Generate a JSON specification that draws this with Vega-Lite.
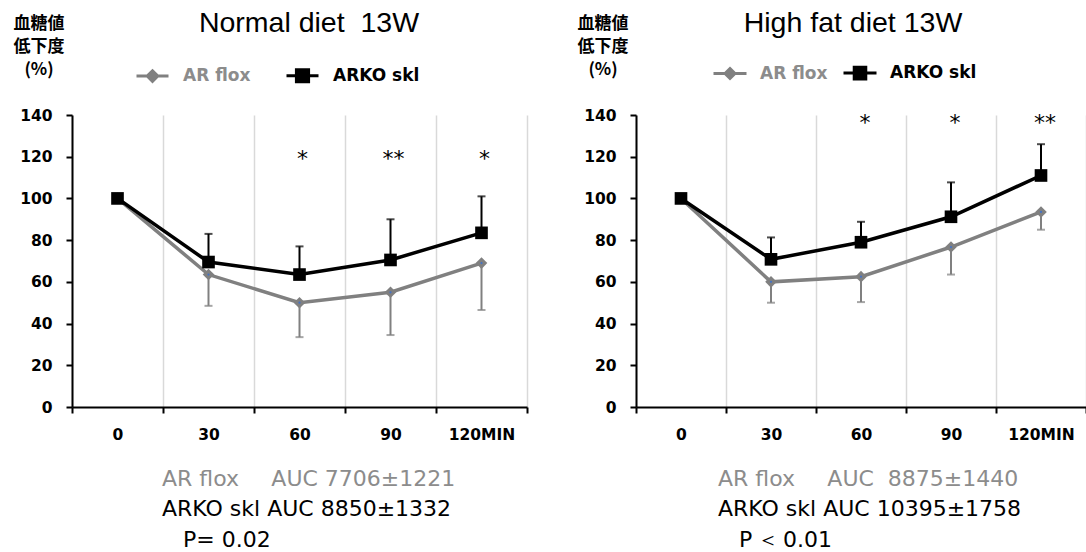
{
  "$schema": "https://vega.github.io/schema/vega-lite/v6.json",
  "background": "white",
  "padding": {"left": 13, "top": 8, "right": 0, "bottom": 0},
  "bounds": "flush",
  "spacing": 109,
  "config": {
    "view": {"stroke": null},
    "font": "DejaVu Sans",
    "axisLeft": {"labelPadding": 14, "tickSize": 6},
    "axisTop": {
      "labels": false, "ticks": false, "domain": false, "grid": false,
      "titleFont": "Liberation Sans", "titleFontSize": 28.5, "titleFontWeight": "normal", "titleColor": "#000000",
      "titleY": -84, "titleAlign": "center", "titleBaseline": "alphabetic"
    },
    "legend": {
      "orient": "none", "direction": "horizontal", "columns": 2,
      "symbolStrokeWidth": 3, "labelFont": "DejaVu Sans", "labelFontSize": 17, "labelFontWeight": "bold"
    }
  },
  "datasets": {
    "normal": [
      {"t": 0, "group": "AR flox", "mean": 100, "end": null},
      {"t": 30, "group": "AR flox", "mean": 63.5, "end": 48.5},
      {"t": 60, "group": "AR flox", "mean": 50, "end": 33.5},
      {"t": 90, "group": "AR flox", "mean": 55, "end": 34.5},
      {"t": 120, "group": "AR flox", "mean": 69, "end": 46.5},
      {"t": 0, "group": "ARKO skl", "mean": 100, "end": null},
      {"t": 30, "group": "ARKO skl", "mean": 69.5, "end": 83},
      {"t": 60, "group": "ARKO skl", "mean": 63.5, "end": 77},
      {"t": 90, "group": "ARKO skl", "mean": 70.5, "end": 90},
      {"t": 120, "group": "ARKO skl", "mean": 83.5, "end": 101}
    ],
    "hfd": [
      {"t": 0, "group": "AR flox", "mean": 100, "end": null},
      {"t": 30, "group": "AR flox", "mean": 60, "end": 50},
      {"t": 60, "group": "AR flox", "mean": 62.5, "end": 50.3},
      {"t": 90, "group": "AR flox", "mean": 76.7, "end": 63.5},
      {"t": 120, "group": "AR flox", "mean": 93.5, "end": 85},
      {"t": 0, "group": "ARKO skl", "mean": 100, "end": null},
      {"t": 30, "group": "ARKO skl", "mean": 70.8, "end": 81.3},
      {"t": 60, "group": "ARKO skl", "mean": 79, "end": 88.8},
      {"t": 90, "group": "ARKO skl", "mean": 91.2, "end": 107.7},
      {"t": 120, "group": "ARKO skl", "mean": 111, "end": 126}
    ],
    "stars_normal": [
      {"t": 60, "y": 119, "label": "*"},
      {"t": 90, "y": 119, "label": "**"},
      {"t": 120, "y": 119, "label": "*"}
    ],
    "stars_hfd": [
      {"t": 60, "y": 136, "label": "*"},
      {"t": 90, "y": 136, "label": "*"},
      {"t": 120, "y": 136, "label": "**"}
    ]
  },
  "resolve": {
    "scale": {"x": "independent", "y": "independent", "color": "independent", "fill": "independent", "stroke": "independent", "shape": "independent", "size": "independent"},
    "legend": {"color": "independent", "fill": "independent", "stroke": "independent", "shape": "independent", "size": "independent"},
    "axis": {"x": "independent", "y": "independent"}
  },
  "hconcat": [
    {
      "width": 455,
      "height": 292,
      "data": {"name": "normal"},
      "title": {
        "text": "AR flox\u00a0\u00a0\u00a0\u00a0\u2009AUC 7706±1221",
        "subtitle": ["ARKO skl AUC 8850±1332", "\u200b\u00a0\u00a0\u00a0P= 0.02"],
        "orient": "bottom", "anchor": "start", "frame": "group", "dx": 90, "offset": 26,
        "font": "DejaVu Sans", "fontSize": 22, "fontWeight": "normal", "color": "#8c8c8c",
        "subtitleFont": "DejaVu Sans", "subtitleFontSize": 22, "subtitleColor": "#000000",
        "subtitleLineHeight": 31, "subtitlePadding": 8, "baseline": "top"
      },
      "resolve": {"axis": {"x": "independent"}},
      "layer": [
        {
          "transform": [{"filter": "isValid(datum.end)"}],
          "mark": {"type": "rule", "strokeWidth": 2},
          "encoding": {
            "x": {"field": "t", "type": "quantitative", "scale": {"domain": [-15, 135], "padding": 0, "nice": false, "zero": false}, "axis": null},
            "y": {"field": "mean", "type": "quantitative", "scale": {"domain": [0, 140], "padding": 0, "nice": false},
              "axis": {"orient": "left", "values": [0, 20, 40, 60, 80, 100, 120, 140], "grid": false,
                "title": ["血糖値", "低下度", "(%)"], "titleAngle": 0, "titleAlign": "center", "titleBaseline": "top",
                "titleX": -33.5, "titleY": -100, "titleFont": "Noto Sans CJK JP", "titleFontSize": 17, "titleFontWeight": "bold", "titleLineHeight": 23, "titleColor": "#000000",
                "labelFont": "DejaVu Sans", "labelFontWeight": "bold", "labelFontSize": 15.5, "labelColor": "#000000", "labelPadding": 14,
                "domainColor": "#000000", "domainWidth": 2, "tickColor": "#000000", "tickWidth": 2, "tickSize": 6}},
            "y2": {"field": "end"},
            "stroke": {"field": "group", "type": "nominal", "scale": {"domain": ["ARKO skl", "AR flox"], "range": ["#000000", "#808080"]}, "legend": null}
          }
        },
        {
          "transform": [{"filter": "isValid(datum.end)"}],
          "mark": {"type": "tick", "orient": "horizontal", "size": 8, "thickness": 2},
          "encoding": {
            "x": {"field": "t", "type": "quantitative", "axis": null},
            "y": {"field": "end", "type": "quantitative"},
            "fill": {"field": "group", "type": "nominal", "scale": {"domain": ["ARKO skl", "AR flox"], "range": ["#000000", "#808080"]}, "legend": null}
          }
        },
        {
          "mark": {"type": "line", "strokeWidth": 3.5},
          "encoding": {
            "x": {"field": "t", "type": "quantitative",
              "axis": {"orient": "bottom", "values": [-15, 15, 45, 75, 105, 135], "title": null,
                "labelExpr": "datum.value > 130 ? '' : datum.value > 100 ? '120MIN' : format(datum.value + 15, 'd')",
                "labelOffset": 45.5, "labelFont": "DejaVu Sans", "labelFontWeight": "bold", "labelFontSize": 15.5, "labelColor": "#000000",
                "labelPadding": 14, "labelFlush": false, "labelOverlap": false, "labelBound": false,
                "grid": true, "gridColor": "#d9d9d9", "gridWidth": 1.5,
                "domainColor": "#000000", "domainWidth": 2, "tickColor": "#000000", "tickWidth": 2, "tickSize": 6}},
            "y": {"field": "mean", "type": "quantitative",
              "axis": {"orient": "left", "values": [0, 20, 40, 60, 80, 100, 120, 140], "grid": false,
                "title": ["血糖値", "低下度", "(%)"], "titleAngle": 0, "titleAlign": "center", "titleBaseline": "top",
                "titleX": -33.5, "titleY": -100, "titleFont": "Noto Sans CJK JP", "titleFontSize": 17, "titleFontWeight": "bold", "titleLineHeight": 23, "titleColor": "#000000",
                "labelFont": "DejaVu Sans", "labelFontWeight": "bold", "labelFontSize": 15.5, "labelColor": "#000000", "labelPadding": 14,
                "domainColor": "#000000", "domainWidth": 2, "tickColor": "#000000", "tickWidth": 2, "tickSize": 6}},
            "color": {"field": "group", "type": "nominal", "scale": {"domain": ["AR flox", "ARKO skl"], "range": ["#808080", "#000000"]},
              "legend": {"title": null, "orient": "none", "legendX": 63, "legendY": -57, "symbolSize": 1024, "labelOffset": 13, "columnPadding": 29,
                "encode": {
                  "symbols": {"update": {
                    "shape": {"signal": "datum.value === 'AR flox' ? 'M-1,0H1M0,-0.33L0.33,0L0,0.33L-0.33,0Z' : 'M-1,0H1M-0.38,-0.38H0.38V0.38H-0.38Z'"},
                    "fill": {"signal": "datum.value === 'AR flox' ? '#808080' : '#000000'"},
                    "stroke": {"signal": "datum.value === 'AR flox' ? '#808080' : '#000000'"},
                    "strokeWidth": {"value": 3}
                  }},
                  "labels": {"update": {
                    "fill": {"signal": "datum.value === 'AR flox' ? '#8c8c8c' : '#000000'"}
                  }}
                }}}
          }
        },
        {
          "mark": {"type": "point", "filled": true, "opacity": 1},
          "encoding": {
            "x": {"field": "t", "type": "quantitative", "axis": null},
            "y": {"field": "mean", "type": "quantitative"},
            "fill": {"field": "group", "type": "nominal", "legend": null},
            "shape": {"field": "group", "type": "nominal", "scale": {"domain": ["ARKO skl", "AR flox"], "range": ["square", "diamond"]}, "legend": null},
            "size": {"field": "group", "type": "nominal", "scale": {"domain": ["ARKO skl", "AR flox"], "range": [160, 135]}, "legend": null}
          }
        },
        {
          "transform": [{"filter": "datum.group === 'AR flox' && datum.t > 0"}],
          "mark": {"type": "point", "filled": true, "opacity": 1, "color": "#4472c4", "size": 5},
          "encoding": {
            "x": {"field": "t", "type": "quantitative", "axis": null},
            "y": {"field": "mean", "type": "quantitative"}
          }
        },
        {
          "data": {"name": "stars_normal"},
          "mark": {"type": "text", "font": "DejaVu Sans", "fontSize": 22, "baseline": "middle", "dx": 3, "color": "#000000"},
          "encoding": {
            "x": {"field": "t", "type": "quantitative", "axis": {"orient": "top", "title": "Normal diet\u00a0\u00a013W", "titleX": 236.5}},
            "y": {"field": "y", "type": "quantitative"},
            "text": {"field": "label"}
          }
        }
      ]
    },
    {
      "width": 450,
      "height": 292,
      "data": {"name": "hfd"},
      "title": {
        "text": "AR flox\u00a0\u00a0\u00a0\u00a0\u2009AUC\u00a0\u00a08875±1440",
        "subtitle": ["ARKO skl AUC 10395±1758", "\u200b\u00a0\u00a0\u00a0P\u2009＜\u20090.01"],
        "orient": "bottom", "anchor": "start", "frame": "group", "dx": 82, "offset": 26,
        "font": "DejaVu Sans", "fontSize": 22, "fontWeight": "normal", "color": "#8c8c8c",
        "subtitleFont": "DejaVu Sans", "subtitleFontSize": 22, "subtitleColor": "#000000",
        "subtitleLineHeight": 31, "subtitlePadding": 8, "baseline": "top"
      },
      "resolve": {"axis": {"x": "independent"}},
      "layer": [
        {
          "transform": [{"filter": "isValid(datum.end)"}],
          "mark": {"type": "rule", "strokeWidth": 2},
          "encoding": {
            "x": {"field": "t", "type": "quantitative", "scale": {"domain": [-15, 135], "padding": 0, "nice": false, "zero": false}, "axis": null},
            "y": {"field": "mean", "type": "quantitative", "scale": {"domain": [0, 140], "padding": 0, "nice": false},
              "axis": {"orient": "left", "values": [0, 20, 40, 60, 80, 100, 120, 140], "grid": false,
                "title": ["血糖値", "低下度", "(%)"], "titleAngle": 0, "titleAlign": "center", "titleBaseline": "top",
                "titleX": -33.5, "titleY": -100, "titleFont": "Noto Sans CJK JP", "titleFontSize": 17, "titleFontWeight": "bold", "titleLineHeight": 23, "titleColor": "#000000",
                "labelFont": "DejaVu Sans", "labelFontWeight": "bold", "labelFontSize": 15.5, "labelColor": "#000000", "labelPadding": 14,
                "domainColor": "#000000", "domainWidth": 2, "tickColor": "#000000", "tickWidth": 2, "tickSize": 6}},
            "y2": {"field": "end"},
            "stroke": {"field": "group", "type": "nominal", "scale": {"domain": ["ARKO skl", "AR flox"], "range": ["#000000", "#808080"]}, "legend": null}
          }
        },
        {
          "transform": [{"filter": "isValid(datum.end)"}],
          "mark": {"type": "tick", "orient": "horizontal", "size": 8, "thickness": 2},
          "encoding": {
            "x": {"field": "t", "type": "quantitative", "axis": null},
            "y": {"field": "end", "type": "quantitative"},
            "fill": {"field": "group", "type": "nominal", "scale": {"domain": ["ARKO skl", "AR flox"], "range": ["#000000", "#808080"]}, "legend": null}
          }
        },
        {
          "mark": {"type": "line", "strokeWidth": 3.5},
          "encoding": {
            "x": {"field": "t", "type": "quantitative",
              "axis": {"orient": "bottom", "values": [-15, 15, 45, 75, 105, 135], "title": null,
                "labelExpr": "datum.value > 130 ? '' : datum.value > 100 ? '120MIN' : format(datum.value + 15, 'd')",
                "labelOffset": 45, "labelFont": "DejaVu Sans", "labelFontWeight": "bold", "labelFontSize": 15.5, "labelColor": "#000000",
                "labelPadding": 14, "labelFlush": false, "labelOverlap": false, "labelBound": false,
                "grid": true, "gridColor": "#d9d9d9", "gridWidth": 1.5,
                "domainColor": "#000000", "domainWidth": 2, "tickColor": "#000000", "tickWidth": 2, "tickSize": 6}},
            "y": {"field": "mean", "type": "quantitative",
              "axis": {"orient": "left", "values": [0, 20, 40, 60, 80, 100, 120, 140], "grid": false,
                "title": ["血糖値", "低下度", "(%)"], "titleAngle": 0, "titleAlign": "center", "titleBaseline": "top",
                "titleX": -33.5, "titleY": -100, "titleFont": "Noto Sans CJK JP", "titleFontSize": 17, "titleFontWeight": "bold", "titleLineHeight": 23, "titleColor": "#000000",
                "labelFont": "DejaVu Sans", "labelFontWeight": "bold", "labelFontSize": 15.5, "labelColor": "#000000", "labelPadding": 14,
                "domainColor": "#000000", "domainWidth": 2, "tickColor": "#000000", "tickWidth": 2, "tickSize": 6}},
            "color": {"field": "group", "type": "nominal", "scale": {"domain": ["AR flox", "ARKO skl"], "range": ["#808080", "#000000"]},
              "legend": {"title": null, "orient": "none", "legendX": 76, "legendY": -60, "symbolSize": 1089, "labelOffset": 12, "columnPadding": 9,
                "encode": {
                  "symbols": {"update": {
                    "shape": {"signal": "datum.value === 'AR flox' ? 'M-1,0H1M0,-0.3L0.3,0L0,0.3L-0.3,0Z' : 'M-1,0H1M-0.35,-0.35H0.35V0.35H-0.35Z'"},
                    "fill": {"signal": "datum.value === 'AR flox' ? '#808080' : '#000000'"},
                    "stroke": {"signal": "datum.value === 'AR flox' ? '#808080' : '#000000'"},
                    "strokeWidth": {"value": 3}
                  }},
                  "labels": {"update": {
                    "fill": {"signal": "datum.value === 'AR flox' ? '#8c8c8c' : '#000000'"}
                  }}
                }}}
          }
        },
        {
          "mark": {"type": "point", "filled": true, "opacity": 1},
          "encoding": {
            "x": {"field": "t", "type": "quantitative", "axis": null},
            "y": {"field": "mean", "type": "quantitative"},
            "fill": {"field": "group", "type": "nominal", "legend": null},
            "shape": {"field": "group", "type": "nominal", "scale": {"domain": ["ARKO skl", "AR flox"], "range": ["square", "diamond"]}, "legend": null},
            "size": {"field": "group", "type": "nominal", "scale": {"domain": ["ARKO skl", "AR flox"], "range": [160, 135]}, "legend": null}
          }
        },
        {
          "transform": [{"filter": "datum.group === 'AR flox' && datum.t > 0"}],
          "mark": {"type": "point", "filled": true, "opacity": 1, "color": "#4472c4", "size": 5},
          "encoding": {
            "x": {"field": "t", "type": "quantitative", "axis": null},
            "y": {"field": "mean", "type": "quantitative"}
          }
        },
        {
          "data": {"name": "stars_hfd"},
          "mark": {"type": "text", "font": "DejaVu Sans", "fontSize": 22, "baseline": "middle", "dx": 4, "color": "#000000"},
          "encoding": {
            "x": {"field": "t", "type": "quantitative", "axis": {"orient": "top", "title": "High fat diet 13W", "titleX": 216.5}},
            "y": {"field": "y", "type": "quantitative"},
            "text": {"field": "label"}
          }
        }
      ]
    }
  ]
}
